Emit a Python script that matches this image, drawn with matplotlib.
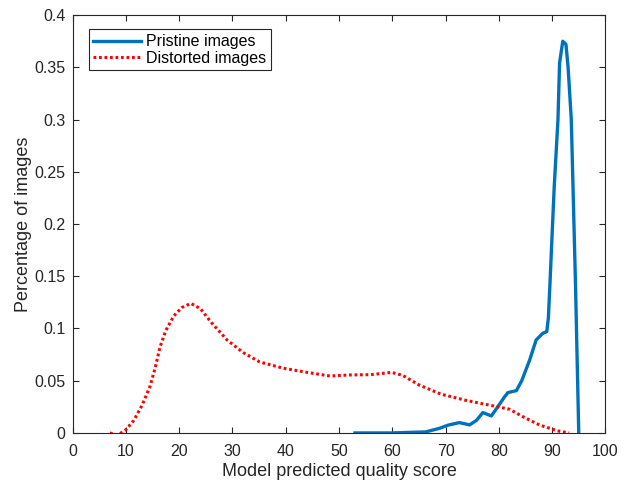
import matplotlib.pyplot as plt

# Values
pristine_x = [53.0, 56, 60, 63, 66.3, 68.9, 70.5, 72.6, 74.5, 75.8, 77.0, 78.6, 79.8,
              81.0, 81.7, 83.3, 84.3, 85.8, 87.0, 88.25, 89.0, 89.3, 89.6, 90.0,
              90.4, 91.1, 91.4, 92.0, 92.6, 93.0, 93.6, 94.0, 94.4, 95.0]
pristine_y = [0.0, 0.0, 0.0, 0.0005, 0.001, 0.0045, 0.0075, 0.0099, 0.0077, 0.012, 0.0195,
              0.0163, 0.025, 0.034, 0.0386, 0.0405, 0.05, 0.07, 0.089, 0.0954, 0.097,
              0.11, 0.143, 0.19, 0.236, 0.30, 0.354, 0.375, 0.372, 0.35, 0.30, 0.22,
              0.14, 0.0]

distorted_x = [7.0, 8.5, 10.0, 11.5, 13.0, 14.5, 15.5, 16.4, 17.5, 19.0, 20.5, 22.2,
               24.0, 26.0, 29.0, 32.0, 35.1, 39.5, 44.0, 48.3, 52.0, 56.0, 59.9,
               62.0, 65.0, 69.2, 74.0, 79.8, 82.0, 84.5, 87.6, 91.0, 93.2]
distorted_y = [0.0, -0.002, 0.003, 0.012, 0.026, 0.044, 0.062, 0.082, 0.098, 0.112,
               0.12, 0.124, 0.119, 0.106, 0.089, 0.077, 0.068, 0.062, 0.058, 0.0545,
               0.0555, 0.0558, 0.058, 0.055, 0.046, 0.037, 0.031, 0.025, 0.0227,
               0.0156, 0.0077, 0.002, 0.0]

plt.rcParams['font.family'] = ['Liberation Sans', 'DejaVu Sans']

fig = plt.figure(figsize=(6.28, 4.87), dpi=100)
ax = fig.add_axes([0.1155, 0.111, 0.8485, 0.858])

ax.plot(pristine_x, pristine_y, color='#0072BD', linewidth=2.4, label='Pristine images')
ax.plot(distorted_x, distorted_y, color='#FF0000', linewidth=2.2, linestyle=(0, (0.9, 0.9)),
        label='Distorted images')

ax.set_xlim(0, 100)
ax.set_ylim(0, 0.4)
ax.set_xticks(range(0, 101, 10))
ax.set_yticks([0, 0.05, 0.1, 0.15, 0.2, 0.25, 0.3, 0.35, 0.4])
ax.set_yticklabels(['0', '0.05', '0.1', '0.15', '0.2', '0.25', '0.3', '0.35', '0.4'])
ax.tick_params(direction='in', top=True, right=True, labelsize=11.5,
               colors='#262626', length=4, width=0.8)
ax.tick_params(axis='x', pad=8)
ax.tick_params(axis='y', pad=5)
for s in ax.spines.values():
    s.set_color('#262626')
    s.set_linewidth(0.8)

ax.set_xlabel('Model predicted quality score', fontsize=13, color='#262626', labelpad=2.5)
ax.set_ylabel('Percentage of images', fontsize=13, color='#262626', labelpad=1.5)

leg = ax.legend(loc='upper left', bbox_to_anchor=(0.03, 0.966), fontsize=11.5,
                fancybox=False, edgecolor='#262626', framealpha=1,
                handlelength=3.0, borderpad=0.3, labelspacing=0.1, handletextpad=0.3,
                borderaxespad=0)
leg.get_frame().set_linewidth(0.8)

fig.savefig('out.png', dpi=100)
